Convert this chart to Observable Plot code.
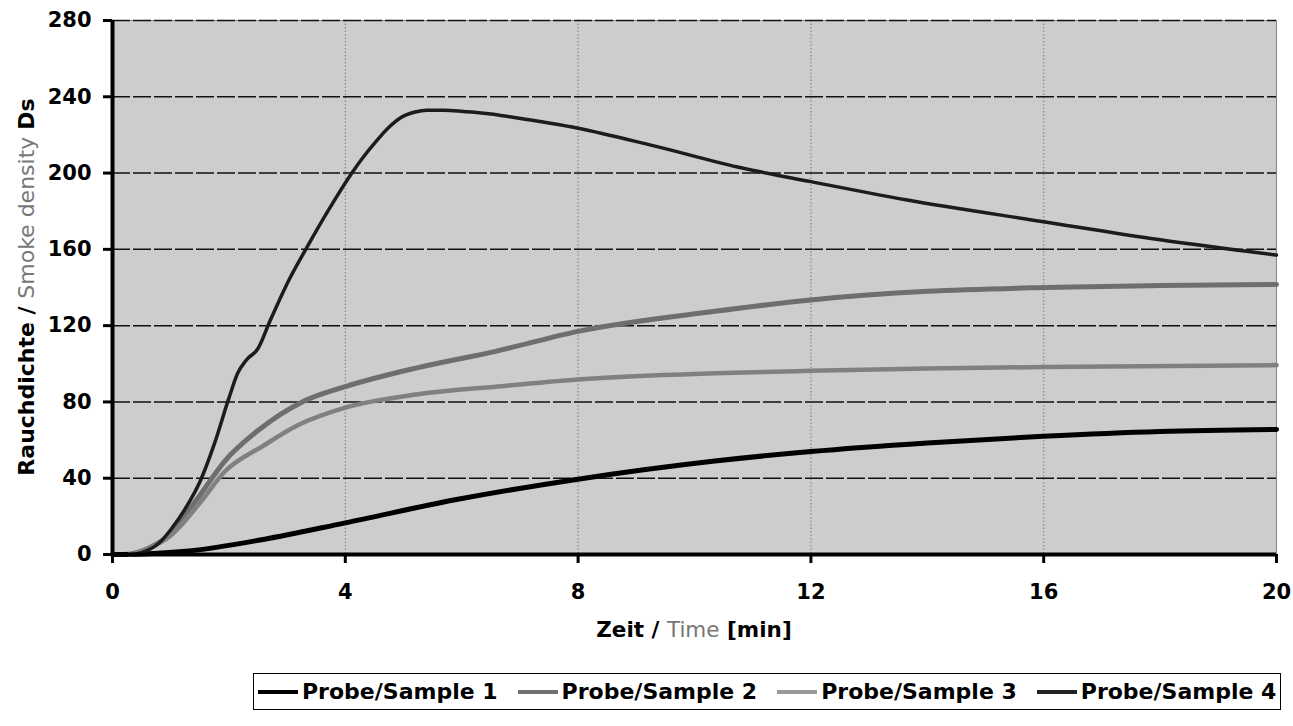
<!DOCTYPE html>
<html>
<head>
<meta charset="utf-8">
<script src="https://cdn.jsdelivr.net/npm/d3@7"></script>
<script src="https://cdn.jsdelivr.net/npm/@observablehq/plot@0.6"></script>
<style>
  html, body { margin: 0; padding: 0; background: #fff; }
  #wrap { position: relative; width: 1293px; height: 726px; font-family: "DejaVu Sans", sans-serif; }
  #legend {
    position: absolute; left: 253px; top: 673px;
    border: 1px solid #000; height: 37px;
    display: flex; align-items: center; padding: 0 4px 0 4px; gap: 20px;
    font-family: "DejaVu Sans", sans-serif; font-weight: bold; font-size: 22px; color: #000;
    box-sizing: border-box; white-space: nowrap;
  }
  .item { display: flex; align-items: center; gap: 4px; }
  .sw { width: 40px; height: 0; }
</style>
</head>
<body>
<div id="wrap">
  <div id="chart"></div>
  <div id="legend"></div>
</div>
<script>
// ---- data ----
const xTicks = [0, 4, 8, 12, 16, 20];
const yTicks = [0, 40, 80, 120, 160, 200, 240, 280];
const seriesNames = ["Probe/Sample 1", "Probe/Sample 2", "Probe/Sample 3", "Probe/Sample 4"];

const tS1 = [0, 0.5, 1.26, 2.59, 4, 5.91, 8, 10.35, 12, 14, 16, 18, 20];
const vS1 = [0, 0.3, 1.7, 7.9, 16.6, 28.8, 39.5, 49, 54, 58.5, 62, 64.5, 65.6];

const tS2 = [0.3, 0.6, 1, 1.26, 1.5, 1.93, 2.5, 3.26, 4, 5.25, 6.58, 8, 10.35, 12, 14, 16, 18, 20];
const vS2 = [0, 3, 11, 21, 31, 49, 65, 80, 88, 98, 106.5, 117, 127.5, 133.5, 138, 140, 141, 141.6];

const tS3 = [0.3, 0.6, 1, 1.5, 1.93, 2.59, 3.2, 4, 5.25, 6.58, 8, 10.35, 12, 14, 16, 20];
const vS3 = [0, 3, 10, 27, 43.5, 57, 68, 77, 84, 88, 91.8, 95, 96.3, 97.5, 98.3, 99.3];

const tS4 = [0.3, 0.5, 0.8, 1, 1.25, 1.5, 1.75, 2, 2.15, 2.3, 2.5, 2.7, 3, 3.34, 3.7, 4.09, 4.3, 4.54, 4.75, 4.95, 5.2, 5.4, 5.7, 6.03, 6.5, 6.83, 8, 9.27, 10.84, 12, 13.63, 16, 18, 20];
const vS4 = [0, 1, 6, 13, 24, 38, 58, 82, 95, 102, 108, 122, 142, 161, 180, 199, 208, 217, 224, 229, 232, 233, 233, 232.3, 231, 229.5, 223.5, 214.5, 202.5, 195.5, 186, 174.5, 165, 157];

const seriesColors = ["#000000", "#6e6e6e", "#808080", "#1c1c1c"];
const seriesWidths = [5, 5, 4.5, 3.5];
const swatchColors = ["#000000", "#707070", "#9a9a9a", "#222222"];
const swatchWidths = [4, 4, 4, 4];

const rows = (ts, vs) => ts.map((t, i) => ({t, v: vs[i]}));
const sets = [rows(tS1, vS1), rows(tS2, vS2), rows(tS3, vS3), rows(tS4, vS4)];

const chart = Plot.plot({
  width: 1293,
  height: 650,
  marginLeft: 112,
  marginRight: 17,
  marginTop: 20,
  marginBottom: 96,
  style: {fontFamily: "DejaVu Sans, sans-serif", fontSize: "21px", fontWeight: "bold", color: "#000", background: "#fff"},
  x: {domain: [0, 20], label: null},
  y: {domain: [0, 280], label: null},
  marks: [
    Plot.frame({fill: "#cdcdcd", stroke: "#8a8a8a", strokeWidth: 1}),
    Plot.gridX(xTicks.slice(1), {stroke: "#8a8a8a", strokeOpacity: 1, strokeDasharray: "1.5,2", strokeWidth: 1.2}),
    Plot.gridY(yTicks.slice(1), {stroke: "#111", strokeOpacity: 1, strokeDasharray: "18,3", strokeWidth: 1.5}),
    ...sets.map((d, i) => Plot.line(d, {x: "t", y: "v", stroke: seriesColors[i], strokeWidth: seriesWidths[i], curve: "monotone-x"})),
    Plot.ruleX([0], {stroke: "#000", strokeWidth: 4}),
    Plot.ruleY([0], {stroke: "#000", strokeWidth: 4}),
    Plot.axisX({ticks: xTicks, tickFormat: d => String(d), tickSize: 9, tickPadding: 21, strokeWidth: 3, fontSize: 21, fontWeight: "bold", label: null}),
    Plot.axisY({ticks: yTicks, tickFormat: d => String(d), tickSize: 9, tickPadding: 12, strokeWidth: 3, fontSize: 21, fontWeight: "bold", label: null})
  ]
});
document.getElementById("chart").appendChild(chart);

// axis titles with mixed colours (real text)
const svg = d3.select(chart);
const xs = chart.scale("x"), ys = chart.scale("y");
const xMid = (xs.apply(0) + xs.apply(20)) / 2;
const yMid = (ys.apply(0) + ys.apply(280)) / 2;

const xt = svg.append("text")
  .attr("x", xMid).attr("y", 637)
  .attr("text-anchor", "middle")
  .style("font-family", "DejaVu Sans, sans-serif").style("font-size", "21.5px");
xt.append("tspan").attr("font-weight", "bold").attr("fill", "#000").text("Zeit / ");
xt.append("tspan").attr("font-weight", "normal").attr("fill", "#777").text("Time");
xt.append("tspan").attr("font-weight", "bold").attr("fill", "#000").text(" [min]");

const yt = svg.append("text")
  .attr("transform", `translate(34,${yMid}) rotate(-90)`)
  .attr("text-anchor", "middle")
  .style("font-family", "DejaVu Sans, sans-serif").style("font-size", "22px");
yt.append("tspan").attr("font-weight", "bold").attr("fill", "#000").text("Rauchdichte / ");
yt.append("tspan").attr("font-weight", "normal").attr("fill", "#777").text("Smoke density ");
yt.append("tspan").attr("font-weight", "bold").attr("fill", "#000").text("Ds");

// legend
const legend = d3.select("#legend");
seriesNames.forEach((name, i) => {
  const it = legend.append("div").attr("class", "item");
  it.append("div").attr("class", "sw")
    .style("border-top", `${swatchWidths[i]}px solid ${swatchColors[i]}`);
  it.append("span").text(name);
});
</script>
</body>
</html>
